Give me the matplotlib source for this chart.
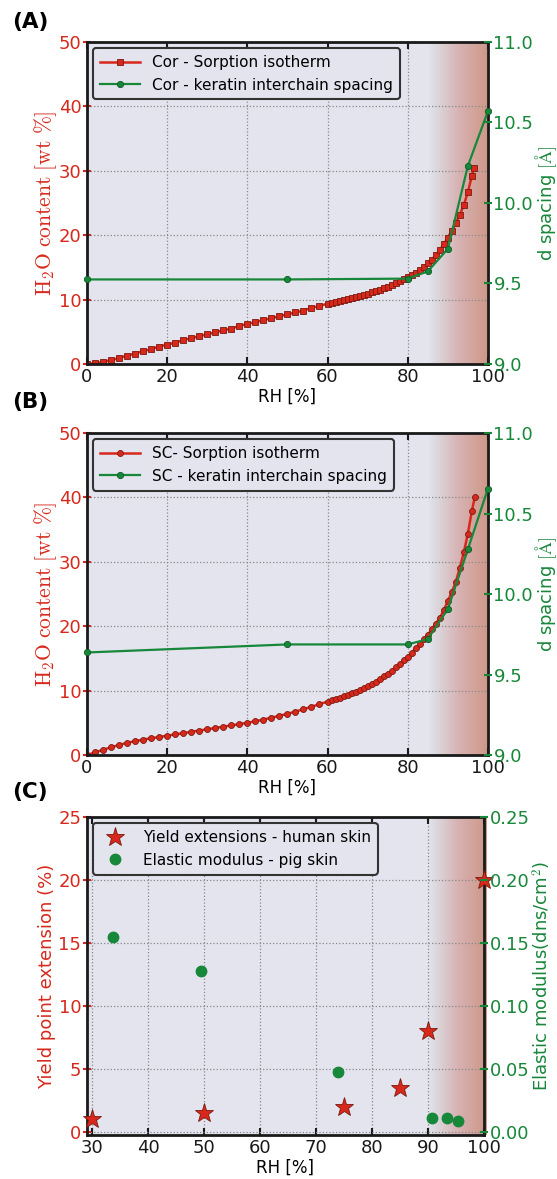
import numpy as np
import matplotlib
matplotlib.use('Agg')
from matplotlib import pyplot as plt
from matplotlib.lines import Line2D

plt.rcParams['mathtext.fontset'] = 'cm'
plt.rcParams['font.family'] = 'DejaVu Sans'

RED = '#d8281c'
GREEN = '#17873a'
BG = '#e4e4ef'

# (A) corneocytes
cor_rh = [0, 2, 4, 6, 8, 10, 12, 14, 16, 18, 20, 22, 24, 26, 28, 30, 32, 34, 36, 38,
          40, 42, 44, 46, 48, 50, 52, 54, 56, 58, 60, 61, 62, 63, 64, 65, 66, 67, 68, 69,
          70, 71, 72, 73, 74, 75, 76, 77, 78, 79, 80, 81, 82, 83, 84, 85, 86, 87, 88, 89,
          90, 91, 92, 93, 94, 95, 96, 96.5]
cor_water = [0.0, 0.1, 0.3, 0.6, 0.9, 1.3, 1.6, 2.0, 2.3, 2.7, 3.0, 3.3, 3.7, 4.0, 4.3, 4.6, 4.9, 5.2, 5.5, 5.9,
             6.2, 6.5, 6.8, 7.1, 7.4, 7.7, 8.0, 8.3, 8.7, 9.0, 9.35, 9.5, 9.65, 9.8, 9.95, 10.1, 10.25, 10.4, 10.55, 10.7,
             10.9, 11.1, 11.3, 11.5, 11.75, 12.0, 12.25, 12.55, 12.85, 13.15, 13.45, 13.8, 14.2, 14.6, 15.1, 15.6, 16.2, 16.9, 17.7, 18.6,
             19.6, 20.7, 21.9, 23.2, 24.7, 26.7, 29.2, 30.5]
cor_d_rh = [0, 50, 80, 85, 90, 95, 100]
cor_d = [9.525, 9.525, 9.53, 9.575, 9.715, 10.23, 10.57]

# (B) stratum corneum
sc_rh = [0, 2, 4, 6, 8, 10, 12, 14, 16, 18, 20, 22, 24, 26, 28, 30, 32, 34, 36, 38,
         40, 42, 44, 46, 48, 50, 52, 54, 56, 58, 60, 61, 62, 63, 64, 65, 66, 67, 68, 69,
         70, 71, 72, 73, 74, 75, 76, 77, 78, 79, 80, 81, 82, 83, 84, 85, 86, 87, 88, 89,
         90, 91, 92, 93, 94, 95, 96, 96.7]
sc_water = [0.0, 0.4, 0.8, 1.2, 1.55, 1.9, 2.15, 2.4, 2.6, 2.8, 3.0, 3.2, 3.4, 3.6, 3.8, 4.0, 4.2, 4.4, 4.6, 4.8,
            5.0, 5.25, 5.5, 5.8, 6.1, 6.4, 6.75, 7.1, 7.5, 7.9, 8.3, 8.5, 8.7, 8.9, 9.1, 9.35, 9.6, 9.85, 10.1, 10.4,
            10.7, 11.0, 11.4, 11.8, 12.2, 12.6, 13.1, 13.6, 14.1, 14.7, 15.3, 15.9, 16.6, 17.3, 18.0, 18.7, 19.5, 20.4, 21.3, 22.5,
            23.9, 25.3, 26.9, 29.1, 31.5, 34.4, 37.9, 40.0]
sc_d_rh = [0, 50, 80, 85, 90, 95, 100]
sc_d = [9.637, 9.687, 9.687, 9.72, 9.906, 10.278, 10.655]

# (C) mechanics
yield_rh = [30, 50, 75, 85, 90, 100]
yield_ext = [1.0, 1.5, 2.0, 3.5, 8.0, 20.0]
mod_rh = [33.7, 49.4, 73.9, 90.7, 93.4, 95.3]
mod_val = [0.155, 0.1275, 0.0474, 0.0111, 0.011, 0.0085]


def gradient(ax, x0, x1, y0, y1):
    t = np.linspace(0, 1, 256)
    stops = [0.0, 0.12, 0.5, 1.0]
    cols = np.array([[0.894, 0.894, 0.937],
                     [0.860, 0.855, 0.875],
                     [0.845, 0.700, 0.705],
                     [0.805, 0.590, 0.525]])
    img = np.zeros((2, 256, 3))
    for c in range(3):
        img[:, :, c] = np.interp(t, stops, cols[:, c])
    ax.imshow(img, extent=[x0, x1, y0, y1], aspect='auto', zorder=0.2,
              interpolation='bilinear', clip_on=False)


def style(ax, ax2):
    ax.set_facecolor(BG)
    ax.grid(True, linestyle=':', color='#888888', lw=0.9)
    for s in ax.spines.values():
        s.set_linewidth(2.0)
        s.set_color('#1a1a1a')
        s.set_zorder(3)
    for s in ax2.spines.values():
        s.set_visible(False)
    ax.tick_params(axis='x', direction='in', top=True, length=5, width=1.5,
                   labelsize=13, colors='#1a1a1a', pad=3)
    ax.tick_params(axis='y', direction='inout', length=6, width=1.5, colors=RED,
                   labelsize=13, pad=1)
    ax2.tick_params(axis='y', direction='inout', length=6, width=1.5, colors=GREEN,
                    labelsize=13, pad=1)
    ax.set_xlabel('RH [%]', fontsize=12, labelpad=1)


def legend(ax2, h, labels, hl):
    leg = ax2.legend(h, labels, loc='upper left', fontsize=11, numpoints=1, fancybox=True,
                     handlelength=hl, borderaxespad=0.4, labelspacing=0.5, borderpad=0.45)
    leg.get_frame().set_facecolor(BG)
    leg.get_frame().set_edgecolor('#333333')
    leg.get_frame().set_linewidth(1.5)
    leg.get_frame().set_alpha(1)


fig = plt.figure(figsize=(5.57, 11.79), dpi=100)

# ---------- (A)
ax = fig.add_axes([0.156, 0.6913, 0.720, 0.2731])
ax2 = ax.twinx()
style(ax, ax2)
gradient(ax, 85, 100, 0, 50)
ax.plot(cor_rh, cor_water, '-s', color=RED, lw=1.8, ms=4.3, mfc=RED, mec='#7a1a10', mew=0.6)
ax2.plot(cor_d_rh, cor_d, '-o', color=GREEN, lw=1.6, ms=4.5, mfc=GREEN, mec='#0d5a25', mew=0.6,
         clip_on=False)
ax.set_xlim(0, 100)
ax.set_ylim(0, 50)
ax2.set_ylim(9.0, 11.0)
ax.set_yticks([0, 10, 20, 30, 40, 50])
ax2.set_yticks([9.0, 9.5, 10.0, 10.5, 11.0])
ax.set_ylabel(r'$\mathrm{H_2O\ content\ [wt\ \%]}$', color=RED, fontsize=15.5, labelpad=0)
ax2.set_ylabel(r'd spacing $[\mathrm{\AA}]$', color=GREEN, fontsize=13, labelpad=0)
h = [Line2D([], [], color=RED, lw=1.8, marker='s', ms=4.3, mec='#7a1a10', mew=0.6),
     Line2D([], [], color=GREEN, lw=1.6, marker='o', ms=4.5, mec='#0d5a25', mew=0.6)]
legend(ax2, h, ['Cor - Sorption isotherm', 'Cor - keratin interchain spacing'], 2.6)

# ---------- (B)
ax = fig.add_axes([0.156, 0.3596, 0.720, 0.2731])
ax2 = ax.twinx()
style(ax, ax2)
gradient(ax, 85, 100, 0, 50)
ax.plot(sc_rh, sc_water, '-o', color=RED, lw=1.8, ms=4.3, mfc=RED, mec='#7a1a10', mew=0.6)
ax2.plot(sc_d_rh, sc_d, '-o', color=GREEN, lw=1.6, ms=4.5, mfc=GREEN, mec='#0d5a25', mew=0.6,
         clip_on=False)
ax.set_xlim(0, 100)
ax.set_ylim(0, 50)
ax2.set_ylim(9.0, 11.0)
ax.set_yticks([0, 10, 20, 30, 40, 50])
ax2.set_yticks([9.0, 9.5, 10.0, 10.5, 11.0])
ax.set_ylabel(r'$\mathrm{H_2O\ content\ [wt\ \%]}$', color=RED, fontsize=15.5, labelpad=0)
ax2.set_ylabel(r'd spacing $[\mathrm{\AA}]$', color=GREEN, fontsize=13, labelpad=0)
h = [Line2D([], [], color=RED, lw=1.8, marker='o', ms=4.3, mec='#7a1a10', mew=0.6),
     Line2D([], [], color=GREEN, lw=1.6, marker='o', ms=4.5, mec='#0d5a25', mew=0.6)]
legend(ax2, h, ['SC- Sorption isotherm', 'SC - keratin interchain spacing'], 2.6)

# ---------- (C)
ax = fig.add_axes([0.156, 0.0373, 0.7127, 0.2697])
ax2 = ax.twinx()
style(ax, ax2)
gradient(ax, 90, 100.5, -0.25, 25)
ax.plot(yield_rh, yield_ext, '*', color=RED, ms=14, mec='#7a1a10', mew=0.6, ls='none',
        clip_on=False, zorder=4)
ax2.plot(mod_rh, mod_val, 'o', color=GREEN, ms=7.5, mec=GREEN, ls='none')
ax.set_xlim(29, 100)
ax.set_ylim(-0.25, 25)
ax2.set_ylim(-0.0025, 0.25)
ax.set_xticks([30, 40, 50, 60, 70, 80, 90, 100])
ax.set_yticks([0, 5, 10, 15, 20, 25])
ax2.set_yticks([0.0, 0.05, 0.10, 0.15, 0.20, 0.25])
ax2.yaxis.set_major_formatter(matplotlib.ticker.FormatStrFormatter('%.2f'))
ax.set_ylabel('Yield point extension (%)', color=RED, fontsize=13, labelpad=2)
ax2.set_ylabel(r'Elastic modulus(dns/cm$^2$)', color=GREEN, fontsize=13, labelpad=1)
h = [Line2D([], [], color=RED, marker='*', ms=14, mec='#7a1a10', mew=0.6, ls='none'),
     Line2D([], [], color=GREEN, marker='o', ms=7.5, ls='none')]
legend(ax2, h, ['Yield extensions - human skin', 'Elastic modulus - pig skin'], 2.0)

for lab, y in [('(A)', 22), ('(B)', 402), ('(C)', 792)]:
    fig.text(0.022, 1 - y / 1179, lab, fontsize=15.5, fontweight='bold', va='center', ha='left')

fig.savefig('out.png', dpi=100)
